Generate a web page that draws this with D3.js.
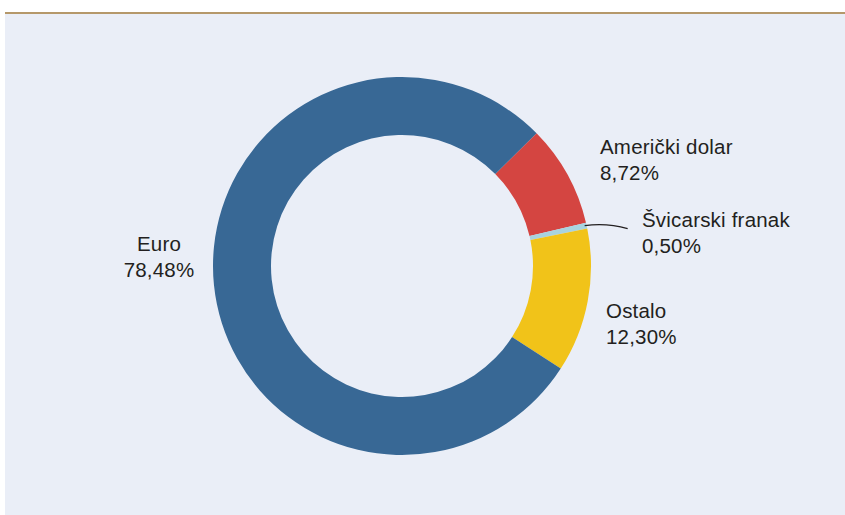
<!DOCTYPE html>
<html>
<head>
<meta charset="utf-8">
<script src="https://cdn.jsdelivr.net/npm/d3@7"></script>
<style>
  html, body { margin: 0; padding: 0; background: #ffffff; }
  svg { display: block; }
  text { font-family: "Liberation Sans", Arial, Helvetica, sans-serif; fill: #231f20; }
</style>
</head>
<body>
<svg id="chart" width="845" height="515"></svg>
<script>
// Currency structure (share, %), listed clockwise from the top-right
const categories = ["Američki dolar", "Švicarski franak", "Ostalo", "Euro"];
const shares = [8.72, 0.50, 12.30, 78.48];
const shareLabels = ["8,72%", "0,50%", "12,30%", "78,48%"];
const colors = ["#d44541", "#a8d3df", "#f1c319", "#386895"];

const W = 845, H = 515;
const svg = d3.select("#chart");

// Panel background and top rule
svg.append("rect").attr("x", 5).attr("y", 13).attr("width", W - 5).attr("height", H - 13)
  .attr("fill", "#eaeef7");
svg.append("line").attr("x1", 5).attr("x2", W).attr("y1", 13).attr("y2", 13)
  .attr("stroke", "#b5986a").attr("stroke-width", 2);

const cx = 402, cy = 266, rOuter = 189, rInner = 131;
const startDeg = 45.4;

const data = categories.map((c, i) => ({ name: c, value: shares[i], label: shareLabels[i], color: colors[i] }));

const pie = d3.pie().sort(null).value(d => d.value)
  .startAngle(startDeg * Math.PI / 180)
  .endAngle(startDeg * Math.PI / 180 + 2 * Math.PI);
const arc = d3.arc().innerRadius(rInner).outerRadius(rOuter);

const g = svg.append("g").attr("transform", `translate(${cx},${cy})`);
const arcs = pie(data);
g.selectAll("path").data(arcs).join("path")
  .attr("d", arc)
  .attr("fill", d => d.data.color);

// Label placement: [anchor, x, y of first line]
const labelPos = {
  "Američki dolar": ["start", 600, 154],
  "Švicarski franak": ["start", 642, 227],
  "Ostalo": ["start", 606, 318],
  "Euro": ["middle", 159, 251]
};
const lineGap = 25.5;

const labels = svg.append("g");
data.forEach(d => {
  const [anchor, x, y] = labelPos[d.name];
  const t = labels.append("text").attr("text-anchor", anchor)
    .attr("font-size", 20.5).attr("letter-spacing", 0.2);
  t.append("tspan").attr("x", x).attr("y", y).text(d.name);
  t.append("tspan").attr("x", x).attr("y", y + lineGap).text(d.label);
});

// Leader line for the small slice
const small = arcs[1];
const mid = (small.startAngle + small.endAngle) / 2;
const p0 = [cx + rOuter * Math.sin(mid) - 2, cy - rOuter * Math.cos(mid)];
svg.append("path")
  .attr("d", `M${p0[0]},${p0[1]} Q${p0[0] + 22},${p0[1] - 3} ${p0[0] + 43},${p0[1] + 3}`)
  .attr("fill", "none").attr("stroke", "#231f20").attr("stroke-width", 1.3);
</script>
</body>
</html>
